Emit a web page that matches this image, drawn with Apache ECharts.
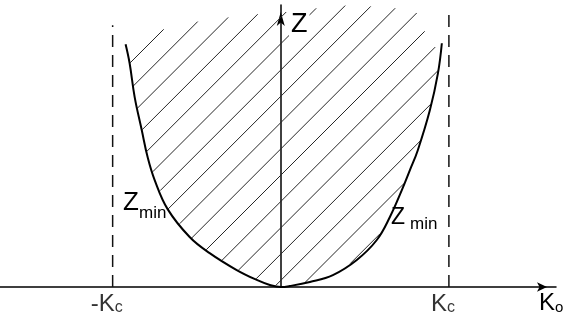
<!DOCTYPE html>
<html>
<head>
<meta charset="utf-8">
<script src="https://cdn.jsdelivr.net/npm/echarts@6/dist/echarts.min.js"></script>
<style>
  html, body { margin: 0; padding: 0; background: #fff; }
  #chart { width: 563px; height: 320px; }
</style>
</head>
<body>
<div id="chart"></div>
<script>
// Lower boundary Z_min(K_o) of the unstable region, K_o in units of K_c.
const kLeft  = [-0.923, -0.899, -0.869, -0.827, -0.792, -0.750, -0.673, -0.542, -0.423, -0.262, -0.143, -0.065, 0];
const zLeft  = [ 1.446,  1.333,  1.131,  0.935,  0.774,  0.637,  0.464,  0.298,  0.202,  0.101,  0.042,  0.012, 0];
const kRight = [0.054, 0.173, 0.310, 0.452, 0.571, 0.649, 0.720, 0.768, 0.815, 0.887, 0.935, 0.958];
const zRight = [0.006, 0.030, 0.071, 0.161, 0.280, 0.417, 0.577, 0.696, 0.815, 1.054, 1.274, 1.452];

// Upper edge where the hatching stops.
const hatchTopK = [-0.958, -0.696, -0.494, -0.327, -0.149, 0, 0.369, 0.661, 0.810, 0.857, 0.905, 0.976];
const hatchTopZ = [ 1.446,  1.536,  1.583,  1.607,  1.625, 1.637, 1.679, 1.667, 1.637, 1.530, 1.429, 1.440];

// Critical wavenumbers ±K_c and the heights of their dashed guides.
const kCrit = [-1, 1];
const kCritTop = [1.56, 1.649];
const kCritLabels = ['-K', 'K'];

const curve = kLeft.map((k, i) => [k, zLeft[i]]).concat(kRight.map((k, i) => [k, zRight[i]]));
const hatchTop = hatchTopK.map((k, i) => [k, hatchTopZ[i]]);

// hatch geometry (screen space): lines x + y = const, 45 degrees
const HATCH_START = 193;
const HATCH_STEP = 26.3;
const HATCH_END = 640;

function interpY(pts, x) {
  if (x < pts[0][0] || x > pts[pts.length - 1][0]) return null;
  for (let i = 1; i < pts.length; i++) {
    const a = pts[i - 1], b = pts[i];
    if (x <= b[0]) {
      const t = b[0] === a[0] ? 0 : (x - a[0]) / (b[0] - a[0]);
      return a[1] + t * (b[1] - a[1]);
    }
  }
  return null;
}

function renderHatch(params, api) {
  const cPts = curve.map(p => api.coord(p));
  const tPts = hatchTop.map(p => api.coord(p));
  const x0 = Math.min(cPts[0][0], tPts[0][0]);
  const x1 = Math.max(cPts[cPts.length - 1][0], tPts[tPts.length - 1][0]);
  const children = [];
  const push = s => children.push({
    type: 'line',
    shape: { x1: s[0], y1: s[1], x2: s[2], y2: s[3] },
    style: { stroke: '#262626', lineWidth: 1 }
  });
  for (let c = HATCH_START; c < HATCH_END; c += HATCH_STEP) {
    let seg = null;
    for (let x = x0; x <= x1; x += 0.5) {
      const y = c - x;
      const yc = interpY(cPts, x);
      const yt = interpY(tPts, x);
      const inside = yc != null && yt != null && y < yc - 0.5 && y > yt;
      if (inside) {
        if (!seg) seg = [x, y, x, y]; else { seg[2] = x; seg[3] = y; }
      } else if (seg) { push(seg); seg = null; }
    }
    if (seg) push(seg);
  }
  return { type: 'group', children };
}

const FONT = '"Liberation Sans", Arial, sans-serif';

const chart = echarts.init(document.getElementById('chart'), null, { renderer: 'canvas' });

const dashedSeries = kCrit.map((k, i) => ({
  type: 'line',
  data: [[k, 0], [k, kCritTop[i]]],
  showSymbol: false,
  silent: true,
  lineStyle: { color: '#111', width: 1.5, type: [12, 8] },
  z: 2
}));

chart.setOption({
  animation: false,
  backgroundColor: '#ffffff',
  grid: { left: 0, right: 7, top: 5, bottom: 33 },
  xAxis: {
    type: 'value', min: -1.67, max: 1.637,
    axisLine: {
      onZero: true,
      lineStyle: { color: '#000', width: 1.5 },
      symbol: ['none', 'arrow'], symbolSize: [7, 10], symbolOffset: [0, -9]
    },
    axisTick: { show: false }, axisLabel: { show: false }, splitLine: { show: false }
  },
  yAxis: {
    type: 'value', min: 0, max: 1.68,
    axisLine: {
      show: true, onZero: true,
      lineStyle: { color: '#000', width: 1.5 },
      symbol: ['none', 'arrow'], symbolSize: [6, 14], symbolOffset: [0, -7]
    },
    axisTick: { show: false }, axisLabel: { show: false }, splitLine: { show: false }
  },
  series: [
    {
      type: 'custom',
      renderItem: renderHatch,
      data: [[0, 0]],
      silent: true,
      z: 1
    },
    ...dashedSeries,
    {
      type: 'line',
      data: curve,
      smooth: 0.4,
      showSymbol: false,
      silent: true,
      lineStyle: { color: '#000', width: 2 },
      z: 3
    },
    {
      type: 'scatter',
      data: kCrit.map(k => [k, 0]),
      symbolSize: 0,
      silent: true,
      label: {
        show: true,
        position: 'bottom',
        distance: 3,
        offset: [-6, 0],
        formatter: p => '{k|' + kCritLabels[p.dataIndex] + '}{s|c}',
        rich: {
          k: { fontFamily: FONT, fontSize: 24, lineHeight: 26, color: '#000', verticalAlign: 'bottom' },
          s: { fontFamily: FONT, fontSize: 16, lineHeight: 18, color: '#000', verticalAlign: 'bottom' }
        }
      }
    }
  ],
  graphic: [
    { type: 'text', z: 100, x: 289, y: 11,
      style: { text: 'Z', font: '27px ' + FONT, fill: '#000', backgroundColor: '#fff', padding: [0, 2, 0, 2] } },
    { type: 'text', z: 100, x: 123, y: 189.5,
      style: { text: 'Z', font: '26px ' + FONT, fill: '#000' } },
    { type: 'text', z: 100, x: 139, y: 205,
      style: { text: 'min', font: '17px ' + FONT, fill: '#000' } },
    { type: 'text', z: 100, x: 391, y: 206.5,
      style: { text: 'Z', font: '23px ' + FONT, fill: '#000' } },
    { type: 'text', z: 100, x: 410, y: 216,
      style: { text: 'min', font: '17px ' + FONT, fill: '#000' } },
    { type: 'text', z: 100, x: 539, y: 291.5,
      style: { text: 'K', font: '24px ' + FONT, fill: '#000' } },
    { type: 'text', z: 100, x: 555, y: 300,
      style: { text: 'o', font: '15px ' + FONT, fill: '#000' } }
  ]
});
</script>
</body>
</html>
